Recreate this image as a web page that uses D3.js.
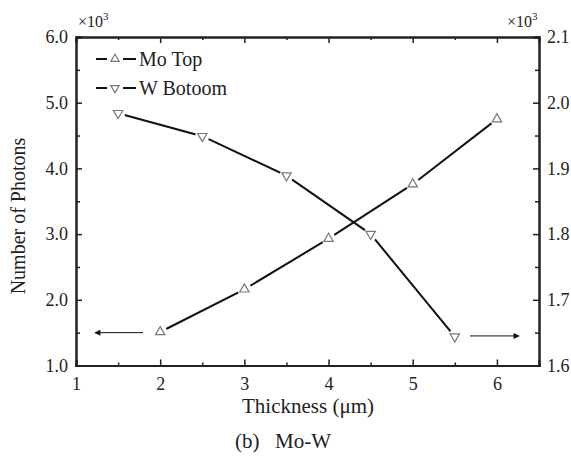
<!DOCTYPE html>
<html>
<head>
<meta charset="utf-8">
<script src="https://cdn.jsdelivr.net/npm/d3@7"></script>
<style>
  body { margin: 0; background: #fff; }
</style>
</head>
<body>
<div id="chart"></div>
<script>
var moThick = [2, 3, 4, 5, 6];
var moTop = [1.51, 2.16, 2.93, 3.76, 4.75];
var wThick = [1.5, 2.5, 3.5, 4.5, 5.5];
var wBottom = [1.984, 1.949, 1.889, 1.800, 1.644];
var xTicks = [1, 2, 3, 4, 5, 6];
var leftTicks = [1, 2, 3, 4, 5, 6];
var rightTicks = [1.6, 1.7, 1.8, 1.9, 2.0, 2.1];

var width = 571, height = 465;
var pL = 76, pR = 539, pT = 37, pB = 365.5;
var serif = "Liberation Serif";

var svg = d3.select("#chart").append("svg")
  .attr("width", width).attr("height", height)
  .attr("font-family", serif);

var x = d3.scaleLinear().domain([1, 6.5]).range([pL, pR]);
var yL = d3.scaleLinear().domain([1, 6]).range([pB, pT]);
var yR = d3.scaleLinear().domain([1.6, 2.1]).range([pB, pT]);

// axes, ticks inward
var fmt1 = d3.format(".1f");
var xMinor = [1.5, 2.5, 3.5, 4.5, 5.5];
function axis(g) { g.attr("font-family", serif); }
svg.append("g").attr("transform", `translate(0,${pB})`)
  .call(d3.axisBottom(x).tickValues(xTicks).tickSize(-6).tickPadding(12).tickFormat(d3.format("d"))).call(axis);
svg.append("g").attr("transform", `translate(0,${pB})`)
  .call(d3.axisBottom(x).tickValues(xMinor).tickSize(-3).tickFormat(""));
svg.append("g").attr("transform", `translate(0,${pT})`)
  .call(d3.axisTop(x).tickValues(xTicks).tickSize(-6).tickFormat(""));
svg.append("g").attr("transform", `translate(0,${pT})`)
  .call(d3.axisTop(x).tickValues(xMinor).tickSize(-3).tickFormat(""));
svg.append("g").attr("transform", `translate(${pL},0)`)
  .call(d3.axisLeft(yL).tickValues(leftTicks).tickSize(-6).tickPadding(8).tickFormat(fmt1)).call(axis);
svg.append("g").attr("transform", `translate(${pL},0)`)
  .call(d3.axisLeft(yL).tickValues([1.5, 2.5, 3.5, 4.5, 5.5]).tickSize(-4).tickFormat(""));
svg.append("g").attr("transform", `translate(${pR},0)`)
  .call(d3.axisRight(yR).tickValues(rightTicks).tickSize(-6).tickPadding(8).tickFormat(fmt1)).call(axis);
svg.append("g").attr("transform", `translate(${pR},0)`)
  .call(d3.axisRight(yR).tickValues([1.65, 1.75, 1.85, 1.95, 2.05]).tickSize(-4).tickFormat(""));

svg.selectAll(".domain").attr("stroke", "#222").attr("stroke-width", 2);
svg.selectAll(".tick line").attr("stroke", "#222").attr("stroke-width", 1.5);
svg.selectAll(".tick text").style("font-size", "18px").attr("fill", "#222");

// x10^3 labels
function exp(xp, yp) {
  var t = svg.append("text").attr("x", xp).attr("y", yp).style("font-size", "16px");
  t.append("tspan").text("\u00d710");
  t.append("tspan").attr("dy", -7).style("font-size", "11px").text("3");
}
exp(78, 27);
exp(507, 27);

// lines
var line = d3.line();
function series(xs, ys, ysc, sym) {
  var pts = xs.map(function (d, i) { return [x(d), ysc(ys[i])]; });
  svg.append("path").attr("d", line(pts)).attr("fill", "none")
    .attr("stroke", "#111").attr("stroke-width", 2);
  pts.forEach(function (p) {
    svg.append("circle").attr("cx", p[0]).attr("cy", p[1]).attr("r", 7).attr("fill", "#fff");
    svg.append("path").attr("transform", `translate(${p[0]},${p[1]})` + (sym == "down" ? " rotate(180)" : ""))
      .attr("d", d3.symbol(d3.symbolTriangle, 38)())
      .attr("fill", "#fff").attr("stroke", "#777").attr("stroke-width", 1.2);
  });
}
series(moThick, moTop, yL, "up");
series(wThick, wBottom, yR, "down");

// legend
function legendRow(yp, sym, label) {
  svg.append("line").attr("x1", 96).attr("x2", 107).attr("y1", yp).attr("y2", yp)
    .attr("stroke", "#111").attr("stroke-width", 2);
  svg.append("line").attr("x1", 123).attr("x2", 136).attr("y1", yp).attr("y2", yp)
    .attr("stroke", "#111").attr("stroke-width", 2);
  svg.append("path").attr("transform", `translate(115,${yp})` + (sym == "down" ? " rotate(180)" : ""))
    .attr("d", d3.symbol(d3.symbolTriangle, 30)())
    .attr("fill", "#fff").attr("stroke", "#777").attr("stroke-width", 1.2);
  svg.append("text").attr("x", 139).attr("y", yp + 7).style("font-size", "20px").text(label);
}
legendRow(59, "up", "Mo Top");
legendRow(88, "down", "W Botoom");

// arrows
svg.append("defs").append("marker").attr("id", "ah")
  .attr("viewBox", "0 0 10 10").attr("refX", 9).attr("refY", 5)
  .attr("markerWidth", 10).attr("markerHeight", 6).attr("orient", "auto")
  .attr("markerUnits", "userSpaceOnUse")
  .append("path").attr("d", "M0,0L10,5L0,10z").attr("fill", "#111");
svg.append("line").attr("x1", 143).attr("x2", 95).attr("y1", yL(1.5)).attr("y2", yL(1.5))
  .attr("stroke", "#111").attr("stroke-width", 1).attr("marker-end", "url(#ah)");
svg.append("line").attr("x1", 470).attr("x2", 519).attr("y1", yR(1.645)).attr("y2", yR(1.645))
  .attr("stroke", "#111").attr("stroke-width", 1).attr("marker-end", "url(#ah)");

// titles
svg.append("text").attr("transform", "translate(25,216) rotate(-90)")
  .attr("text-anchor", "middle").style("font-size", "20px").text("Number of Photons");
svg.append("text").attr("x", 308).attr("y", 413).attr("text-anchor", "middle")
  .style("font-size", "21px").text("Thickness (\u03bcm)");
svg.append("text").attr("x", 235).attr("y", 448)
  .style("font-size", "21px").text("(b)");
svg.append("text").attr("x", 275).attr("y", 448)
  .style("font-size", "21px").text("Mo-W");

svg.selectAll("text").attr("font-family", serif).style("font-family", serif).attr("fill", "#222");
</script>
</body>
</html>
